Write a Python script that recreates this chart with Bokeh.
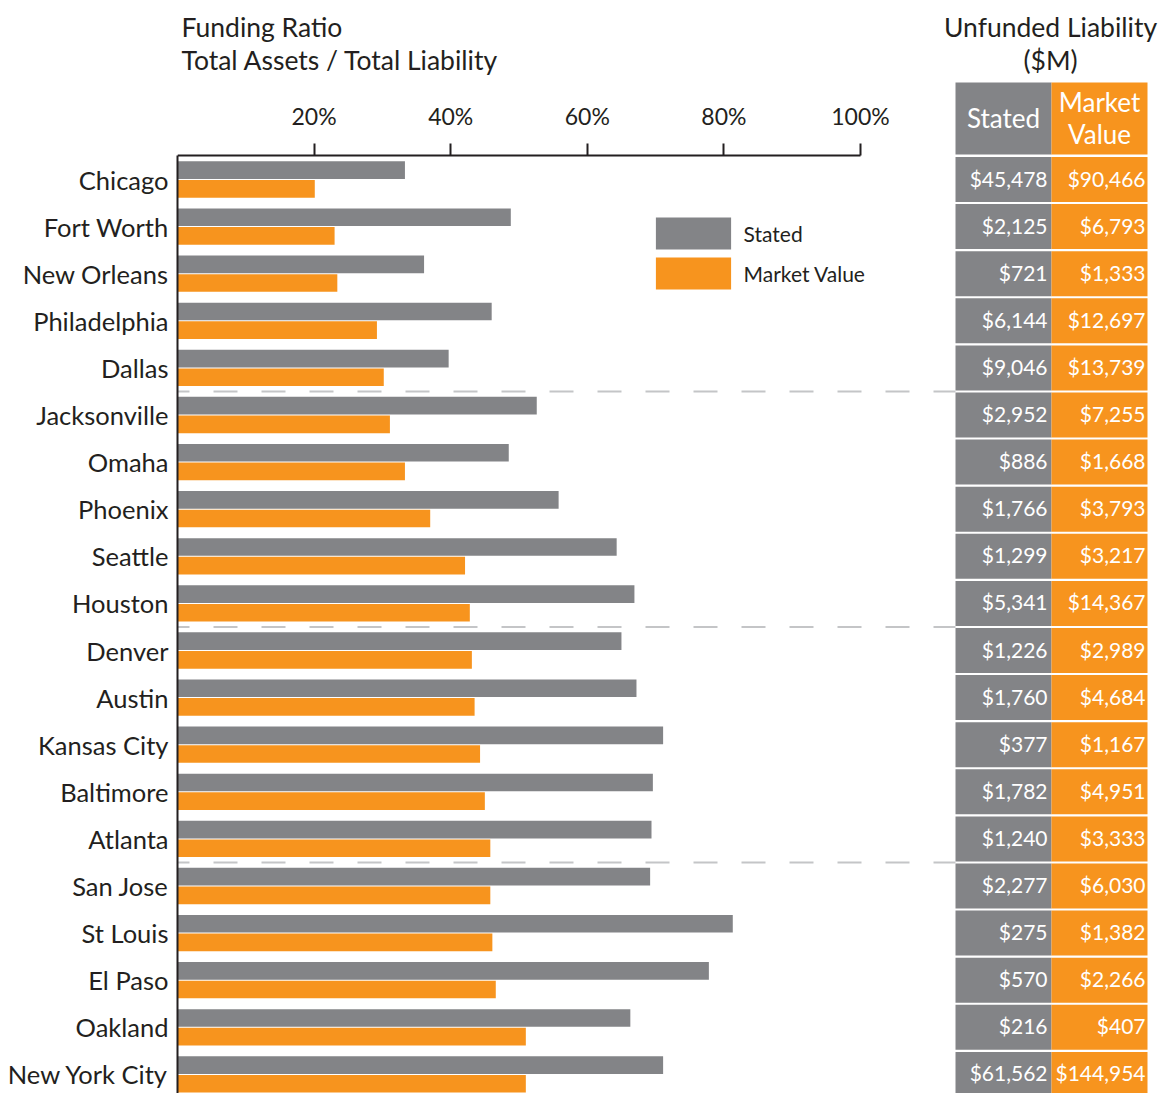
from bokeh.plotting import figure
from bokeh.models import Range1d, FixedTicker, Legend, LegendItem, ColumnDataSource
from bokeh.embed import file_html
from bokeh.resources import INLINE
from bokeh.core.properties import value

# ---------------- data ----------------
cities = ["Chicago", "Fort Worth", "New Orleans", "Philadelphia", "Dallas",
          "Jacksonville", "Omaha", "Phoenix", "Seattle", "Houston",
          "Denver", "Austin", "Kansas City", "Baltimore", "Atlanta",
          "San Jose", "St Louis", "El Paso", "Oakland", "New York City"]
stated_ratio = [33.3, 48.8, 36.1, 46.0, 39.7, 52.6, 48.5, 55.8, 64.3, 66.9,
                65.0, 67.2, 71.1, 69.6, 69.4, 69.2, 81.3, 77.8, 66.3, 71.1]
market_ratio = [20.1, 23.0, 23.4, 29.2, 30.2, 31.1, 33.3, 37.0, 42.1, 42.8,
                43.1, 43.5, 44.3, 45.0, 45.8, 45.8, 46.1, 46.6, 51.0, 51.0]
stated_liab = ["$45,478", "$2,125", "$721", "$6,144", "$9,046", "$2,952", "$886",
               "$1,766", "$1,299", "$5,341", "$1,226", "$1,760", "$377", "$1,782",
               "$1,240", "$2,277", "$275", "$570", "$216", "$61,562"]
market_liab = ["$90,466", "$6,793", "$1,333", "$12,697", "$13,739", "$7,255", "$1,668",
               "$3,793", "$3,217", "$14,367", "$2,989", "$4,684", "$1,167", "$4,951",
               "$3,333", "$6,030", "$1,382", "$2,266", "$407", "$144,954"]
x_ticks = [20, 40, 60, 80, 100]
x_tick_labels = ["20%", "40%", "60%", "80%", "100%"]
series = ["Stated", "Market Value"]
left_title = ["Funding Ratio", "Total Assets / Total Liability"]
right_title = ["Unfunded Liability", "($M)"]
table_header = ["Stated", "Market", "Value"]
group_size = 5

# ---------------- style / layout ----------------
FONT = "Lato"
DARK = "#231F20"
GRAY = "#838487"
ORANGE = "#F7941E"
DASH = "#C4C5C7"
W, H = 1160, 1093
FRAME_LEFT = 177          # y-axis position (px from figure left)
ROW_PX = 47.1             # pixel pitch of one city row
ROW0_PX = 179             # first row centre (px from figure top)
AXIS_PX = 155             # x-axis line (px from figure top)
PX_PER_PCT = 6.83
COL_PX = 96               # table column width
TABLE_LEFT = 955          # table left edge (px from figure left)
TXT_SHIFT = 1.5 / ROW_PX  # small upward nudge for middle-baseline text

n = len(cities)
idx = list(range(n))
frame_w = W - FRAME_LEFT
top = -ROW0_PX / ROW_PX
bottom = top + H / ROW_PX


def row_at(px):
    return top + (px - 2) / ROW_PX


axis_row = top + AXIS_PX / ROW_PX
tbl_start = -(TABLE_LEFT - FRAME_LEFT) / COL_PX

p = figure(width=W, height=H, title=None,
           x_range=Range1d(0, frame_w / PX_PER_PCT),
           y_range=Range1d(bottom, top),
           x_axis_location="above", output_backend="svg", toolbar_location=None,
           min_border_left=FRAME_LEFT, min_border_top=0,
           min_border_right=0, min_border_bottom=0)
p.extra_x_ranges = {"tbl": Range1d(tbl_start, tbl_start + frame_w / COL_PX)}
p.outline_line_color = None
p.xgrid.visible = False
p.ygrid.visible = False

# bars
OFF = 0.198
BAR_H = 0.375
src = ColumnDataSource(dict(
    y_s=[i - OFF for i in idx], y_m=[i + OFF for i in idx],
    stated=stated_ratio, market=market_ratio))
r1 = p.hbar(y="y_s", left=0, right="stated", height=BAR_H, fill_color=GRAY,
            line_color=None, source=src)
r2 = p.hbar(y="y_m", left=0, right="market", height=BAR_H, fill_color=ORANGE,
            line_color=None, source=src)

# group separators
seps = [b - 0.5 for b in range(group_size, n, group_size)]
p.segment(x0=[tbl_start] * len(seps), x1=[0] * len(seps), y0=seps, y1=seps,
          x_range_name="tbl", line_color=DASH, line_width=2,
          line_dash="24 24", line_dash_offset=12)

# axes
xa = p.xaxis[0]
xa.fixed_location = axis_row
xa.ticker = FixedTicker(ticks=x_ticks)
xa.major_label_overrides = {t: l for t, l in zip(x_ticks, x_tick_labels)}
xa.bounds = (0, 100)
xa.axis_line_color = DARK
xa.axis_line_width = 2
xa.major_tick_line_color = DARK
xa.major_tick_line_width = 2
xa.major_tick_out = 12
xa.major_tick_in = 0
xa.minor_tick_line_color = None
xa.major_label_text_font = FONT
xa.major_label_text_font_size = "23px"
xa.major_label_text_color = DARK
xa.major_label_standoff = 14

ya = p.yaxis[0]
ya.ticker = FixedTicker(ticks=idx)
ya.major_label_overrides = {i: c for i, c in enumerate(cities)}
ya.bounds = (axis_row, bottom)
ya.axis_line_color = DARK
ya.axis_line_width = 2
ya.major_tick_line_color = None
ya.major_tick_out = 0
ya.major_tick_in = 0
ya.minor_tick_line_color = None
ya.major_label_text_font = FONT
ya.major_label_text_font_size = "25.5px"
ya.major_label_text_color = DARK
ya.major_label_standoff = 9

# legend
legend = Legend(items=[LegendItem(label=series[0], renderers=[r1]),
                       LegendItem(label=series[1], renderers=[r2])],
                location=(468.6, 800), glyph_width=94, glyph_height=40,
                label_height=40, spacing=0, padding=0, margin=0,
                label_standoff=4, border_line_color=None, background_fill_alpha=0,
                label_text_font=FONT, label_text_font_size="21px",
                label_text_color=DARK)
p.add_layout(legend)

# left header
p.text(x=[4 / PX_PER_PCT] * 2, y=[row_at(28), row_at(61)], text=left_title,
       text_align="left", text_baseline="middle", text_color=DARK,
       text_font=value(FONT), text_font_size="26.5px")

# right table
CELL_H = 45 / ROW_PX
p.rect(x=0.5, y=idx, width=1, height=CELL_H, fill_color=GRAY, line_color=None,
       x_range_name="tbl")
p.rect(x=1.5, y=idx, width=1, height=CELL_H, fill_color=ORANGE, line_color=None,
       x_range_name="tbl")
txt_y = [i - TXT_SHIFT for i in idx]
p.text(x=1 - 4 / COL_PX, y=txt_y, text=stated_liab, text_align="right",
       text_baseline="middle", text_color="white", text_font=value(FONT),
       text_font_size="21px", x_range_name="tbl")
p.text(x=2 - 2 / COL_PX, y=txt_y, text=market_liab, text_align="right",
       text_baseline="middle", text_color="white", text_font=value(FONT),
       text_font_size="21px", x_range_name="tbl")

hdr_top, hdr_bot = top + 82 / ROW_PX, top + 154 / ROW_PX
p.quad(left=[0, 1], right=[1, 2], top=[hdr_top] * 2, bottom=[hdr_bot] * 2,
       fill_color=[GRAY, ORANGE], line_color=None, x_range_name="tbl")
p.text(x=[0.5, 1.5, 1.5], y=[row_at(119), row_at(103), row_at(135)], text=table_header,
       text_align="center", text_baseline="middle", text_color="white",
       text_font=value(FONT), text_font_size="26px", x_range_name="tbl")
p.text(x=[0.99, 0.99], y=[row_at(28), row_at(61)], text=right_title,
       text_align="center", text_baseline="middle", text_color=DARK,
       text_font=value(FONT), text_font_size="26.5px", x_range_name="tbl")

open("out.html", "w").write(file_html(p, INLINE))
